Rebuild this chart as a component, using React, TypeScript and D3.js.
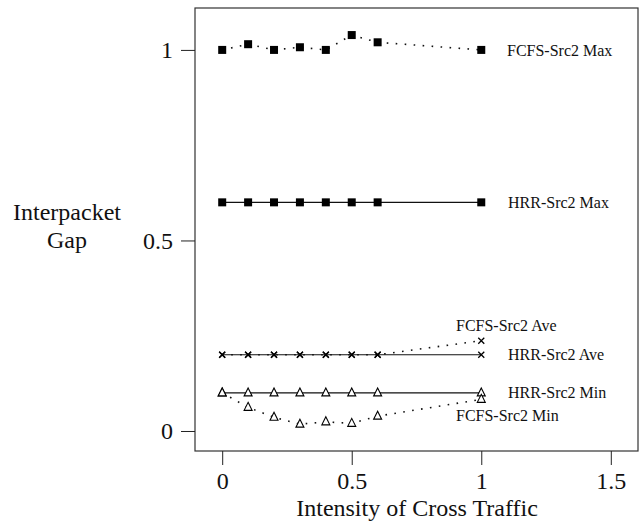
import * as d3 from "d3";
import React, { useEffect, useRef } from "react";

const xs = [0, 0.1, 0.2, 0.3, 0.4, 0.5, 0.6, 1.0];
const fcfsMax = [1.0, 1.015, 1.0, 1.007, 1.0, 1.039, 1.02, 1.0];
const hrrMax = [0.6, 0.6, 0.6, 0.6, 0.6, 0.6, 0.6, 0.6];
const fcfsAve = [0.2, 0.2, 0.2, 0.2, 0.2, 0.2, 0.2, 0.237];
const hrrAve = [0.2, 0.2, 0.2, 0.2, 0.2, 0.2, 0.2, 0.2];
const hrrMin = [0.1, 0.1, 0.1, 0.1, 0.1, 0.1, 0.1, 0.1];
const fcfsMin = [0.1, 0.062, 0.036, 0.018, 0.024, 0.02, 0.039, 0.083];

const xTicks = [0, 0.5, 1, 1.5];
const yTicks = [0, 0.5, 1];

const series = [
  { name: "FCFS-Src2 Max", values: fcfsMax, dotted: true, marker: "square", lx: 507, dy: 0 },
  { name: "HRR-Src2 Max", values: hrrMax, dotted: false, marker: "square", lx: 508, dy: 0 },
  { name: "FCFS-Src2 Ave", values: fcfsAve, dotted: true, marker: "cross", lx: 456, dy: -15 },
  { name: "HRR-Src2 Ave", values: hrrAve, dotted: false, marker: "cross", lx: 508, dy: 0 },
  { name: "HRR-Src2 Min", values: hrrMin, dotted: false, marker: "tri", lx: 508, dy: 0 },
  { name: "FCFS-Src2 Min", values: fcfsMin, dotted: true, marker: "tri", lx: 456, dy: 16 },
];

const font = "'Liberation Serif', 'Times New Roman', serif";

const App = () => {
  const ref = useRef<SVGSVGElement>(null);

  useEffect(() => {
    const svg = d3.select(ref.current);
    svg.selectAll("*").remove();

    const left = 195, right = 638, top = 8, bottom = 451;

    const xScale = d3.scaleLinear().domain([-0.105, 1.605]).range([left, right]);
    const yScale = d3.scaleLinear().domain([-0.0525, 1.11]).range([bottom, top]);

    // frame
    svg.append("rect")
      .attr("x", left).attr("y", top)
      .attr("width", right - left).attr("height", bottom - top)
      .attr("fill", "none").attr("stroke", "#333").attr("stroke-width", 1.2);

    // x axis
    const xAxis = svg.append("g")
      .attr("transform", `translate(0,${bottom})`)
      .call(d3.axisBottom(xScale).tickValues(xTicks).tickSize(14).tickFormat(d3.format("")));
    xAxis.select(".domain").remove();
    xAxis.selectAll("line").attr("stroke", "#222");
    xAxis.selectAll("text")
      .attr("font-family", font).attr("font-size", 24).attr("fill", "#111").attr("dy", "0.88em");

    const yAxis = svg.append("g")
      .attr("transform", `translate(${left},0)`)
      .call(d3.axisLeft(yScale).tickValues(yTicks).tickSize(14).tickFormat(d3.format("")));
    yAxis.select(".domain").remove();
    yAxis.selectAll("line").attr("stroke", "#222");
    yAxis.selectAll("text")
      .attr("font-family", font).attr("font-size", 24).attr("fill", "#111").attr("x", -22);

    svg.append("text")
      .attr("x", 417).attr("y", 516)
      .attr("text-anchor", "middle")
      .attr("font-family", font).attr("font-size", 24).attr("fill", "#111")
      .text("Intensity of Cross Traffic");

    const yt = svg.append("text")
      .attr("text-anchor", "middle")
      .attr("font-family", font).attr("font-size", 24).attr("fill", "#111");
    yt.append("tspan").attr("x", 67).attr("y", 220).text("Interpacket");
    yt.append("tspan").attr("x", 67).attr("y", 248).text("Gap");

    const line = d3.line<number>()
      .x((d, i) => xScale(xs[i]))
      .y((d) => yScale(d));

    series.forEach((s) => {
      svg.append("path")
        .datum(s.values)
        .attr("fill", "none")
        .attr("stroke", "#111")
        .attr("stroke-width", s.dotted ? 1.6 : 1.1)
        .attr("stroke-dasharray", s.dotted ? "1.6 7.4" : null)
        .attr("d", line);

      const g = svg.append("g");
      s.values.forEach((v, i) => {
        const cx = xScale(xs[i]), cy = yScale(v);
        if (s.marker === "square") {
          g.append("rect")
            .attr("x", cx - 4).attr("y", cy - 4).attr("width", 8).attr("height", 8)
            .attr("fill", "#000");
        } else if (s.marker === "cross") {
          g.append("path")
            .attr("d", `M${cx - 3},${cy - 3}L${cx + 3},${cy + 3}M${cx - 3},${cy + 3}L${cx + 3},${cy - 3}`)
            .attr("stroke", "#000").attr("stroke-width", 1.3);
        } else {
          g.append("path")
            .attr("d", `M${cx},${cy - 5}L${cx + 4},${cy + 3}L${cx - 4},${cy + 3}Z`)
            .attr("fill", "#fff").attr("stroke", "#000").attr("stroke-width", 1.1);
        }
      });

      svg.append("text")
        .attr("x", s.lx)
        .attr("y", yScale(s.values[s.values.length - 1]) + s.dy)
        .attr("dy", "0.35em")
        .attr("font-family", font).attr("font-size", 16).attr("fill", "#111")
        .text(s.name);
    });
  }, []);

  return (
    <div>
      <svg ref={ref} width={643} height={522} style={{ position: "absolute", left: 0, top: 0 }} />
    </div>
  );
};

export default App;
